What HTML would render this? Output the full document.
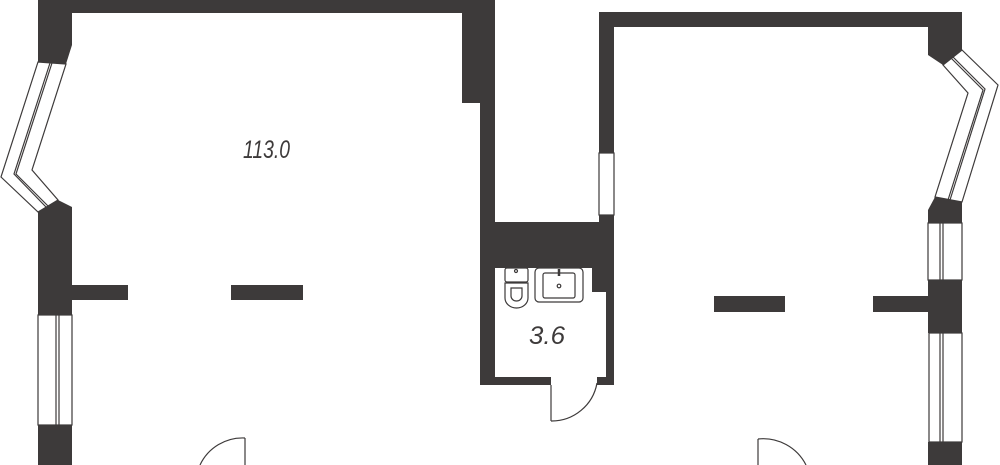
<!DOCTYPE html>
<html><head><style>html,body{margin:0;padding:0;background:#fff;}svg{display:block}</style></head>
<body>
<svg width="1000" height="465" viewBox="0 0 1000 465" xmlns="http://www.w3.org/2000/svg">
<g fill="#3d3a3a">
<!-- left unit -->
<rect x="38" y="0" width="457" height="13"/>
<polygon points="38,0 72,0 72,45 66,64 38,62"/>
<polygon points="38,212 58,200 72,207 72,315 38,315"/>
<rect x="38" y="425" width="34" height="40"/>
<rect x="72" y="285" width="56" height="15"/>
<rect x="231" y="285" width="72" height="15"/>
<rect x="462" y="0" width="33" height="103"/>
<rect x="480" y="103" width="15" height="282"/>
<!-- bathroom -->
<rect x="480" y="222" width="134" height="46"/>
<rect x="592" y="268" width="22" height="24"/>
<rect x="606" y="268" width="8" height="117"/>
<rect x="480" y="377" width="71" height="8"/>
<rect x="597" y="377" width="17" height="8"/>
<!-- right unit -->
<rect x="599" y="12" width="15" height="141"/>
<rect x="599" y="215" width="15" height="10"/>
<rect x="599" y="12" width="363" height="15"/>
<polygon points="928,12 962,12 962,50 943,65 928,55"/>
<polygon points="935,197 962,202 962,223 928,223 928,210"/>
<rect x="928" y="280" width="34" height="53"/>
<rect x="873" y="296" width="55" height="16"/>
<rect x="714" y="296" width="71" height="16"/>
<rect x="928" y="442" width="34" height="23"/>
</g>
<g fill="none" stroke="#3d3a3a" stroke-width="1.2">
<!-- left bay window -->
<polygon points="38,62 66,64 32,170 58,200 38,212 1,177" fill="#fff"/>
<polyline points="52,63 16,174 48,206"/>
<polyline points="50,63 14,174 46,207"/>
<!-- left lower window -->
<rect x="38" y="315" width="34" height="110" fill="#fff"/>
<line x1="56" y1="315" x2="56" y2="425"/><line x1="59" y1="315" x2="59" y2="425"/>
<!-- right bay window -->
<polygon points="962,50 998,85 962,202 935,197 968,93 943,65" fill="#fff"/>
<polyline points="951,58 983,90 948,200"/>
<polyline points="953,57 985,89 950,200"/>
<!-- right windows -->
<rect x="928" y="223" width="34" height="57" fill="#fff"/>
<line x1="940" y1="223" x2="940" y2="280"/><line x1="943" y1="223" x2="943" y2="280"/>
<rect x="929" y="333" width="33" height="109" fill="#fff"/>
<line x1="940" y1="333" x2="940" y2="442"/><line x1="943" y1="333" x2="943" y2="442"/>
<rect x="599" y="153" width="15" height="62" fill="#fff"/>
<!-- bath door -->
<line x1="551" y1="385" x2="551" y2="421"/>
<path d="M551,421 A46,46 0 0 0 597,383"/>
<!-- doors -->
<line x1="245" y1="438" x2="245" y2="465"/>
<path d="M245,438 A47,47 0 0 0 200,465"/>
<line x1="758" y1="439" x2="758" y2="465"/>
<path d="M758,439 A48,48 0 0 1 806,465"/>
<!-- toilet -->
<rect x="505" y="268" width="23" height="14" rx="2"/>
<path d="M505,283 L505,298 A11.5,10 0 0 0 528,298 L528,283 Z"/>
<path d="M511,288 L522,288 L522,296 A5.5,5 0 0 1 511,296 Z"/>
<circle cx="516" cy="271" r="1.5"/>
<!-- sink -->
<rect x="535" y="268" width="48" height="34" rx="4"/>
<rect x="543" y="273" width="32" height="25" rx="2"/>
<line x1="559" y1="269" x2="559" y2="276" stroke-width="2.5"/>
<circle cx="559" cy="286" r="1.8"/>
</g>
<g font-family="Liberation Sans, sans-serif" font-style="italic" fill="#3d3a3a" font-weight="300">
<text x="243" y="158" font-size="25" textLength="47" lengthAdjust="spacingAndGlyphs">113.0</text>
<text x="529" y="344" font-size="25" textLength="36" lengthAdjust="spacingAndGlyphs">3.6</text>
</g>
</svg>
</body></html>
